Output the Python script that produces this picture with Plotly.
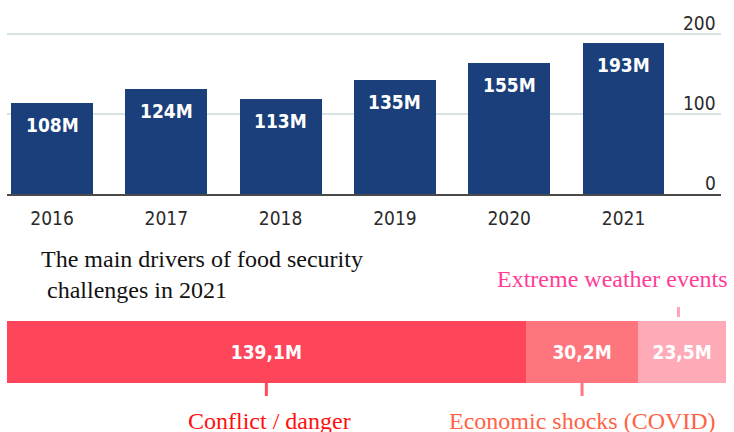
import plotly.graph_objects as go

# ---- data ----
years = ["2016", "2017", "2018", "2019", "2020", "2021"]
bar_heights = [114, 131, 119, 142.5, 164, 189]          # bar heights as drawn
bar_labels = ["108M", "124M", "113M", "135M", "155M", "193M"]
y_ticks = [0, 100, 200]
y_tick_labels = ["0", "100", "200"]

drivers = ["Conflict / danger", "Economic shocks (COVID)", "Extreme weather events"]
driver_values = [139.1, 30.2, 23.5]
driver_labels = ["139,1M", "30,2M", "23,5M"]
driver_colors = ["#ff455a", "#ff757e", "#ffabb7"]
driver_tick_colors = ["#ff4a5c", "#ff7780", "#ffa3b6"]
driver_text_colors = ["#ff1010", "#ff6245", "#ff3d96"]
title_text = "The main drivers of food security<br> challenges in 2021"

W, H = 734, 432
SANS = "DejaVu Sans Condensed, Liberation Sans Narrow, Arial Narrow, sans-serif"
SERIF = "Liberation Serif, Times New Roman, serif"
BLUE = "#1b3f7a"
PX_PER_UNIT = 0.8          # top chart: 80 px per 100
Y_MAX = 225

fig = go.Figure()

# top bar chart
fig.add_trace(go.Bar(
    x=years, y=bar_heights, marker_color=BLUE, marker_line_width=0,
    xaxis="x", yaxis="y", hoverinfo="skip",
))
for i, (h, lab) in enumerate(zip(bar_heights, bar_labels)):
    fig.add_annotation(
        x=i, y=h, xref="x", yref="y", text=lab, showarrow=False,
        yanchor="top", yshift=-9,
        font=dict(family=SANS, size=19, color="white", weight=600),
    )
# y tick labels (right side, just above the gridlines)
for v, t in zip(y_ticks, y_tick_labels):
    fig.add_annotation(
        x=1, y=v, xref="x domain", yref="y", text=t, showarrow=False,
        xanchor="right", yanchor="middle", xshift=-3, yshift=11,
        font=dict(family=SANS, size=19, color="#2b2b2b"),
    )

# bottom stacked bar
total = sum(driver_values)
start = 0
mids = []
for name, v, lab, c in zip(drivers, driver_values, driver_labels, driver_colors):
    fig.add_trace(go.Bar(
        y=[0], x=[v], orientation="h", width=1, marker_color=c, marker_line_width=0,
        text=[lab], textposition="inside", insidetextanchor="middle", textangle=0,
        textfont=dict(family=SANS, size=19, color="white", weight=600),
        xaxis="x2", yaxis="y2", hoverinfo="skip", name=name,
    ))
    mids.append(start + v / 2)
    start += v

bar_bot = 49 / H
bar_top = 111 / H
# little ticks
fig.add_shape(type="line", xref="x2", yref="paper", x0=mids[0], x1=mids[0],
              y0=bar_bot, y1=36 / H, line=dict(color=driver_tick_colors[0], width=3))
fig.add_shape(type="line", xref="x2", yref="paper", x0=mids[1], x1=mids[1],
              y0=bar_bot, y1=36 / H, line=dict(color=driver_tick_colors[1], width=3))
fig.add_shape(type="line", xref="x2", yref="paper", x0=mids[2] - 1, x1=mids[2] - 1,
              y0=115 / H, y1=125 / H, line=dict(color=driver_tick_colors[2], width=3))

# driver labels
fig.add_annotation(x=mids[0], y=(H - 421) / H, xref="x2", yref="paper",
                   text=drivers[0], showarrow=False, xanchor="center", yanchor="middle",
                   xshift=3,
                   font=dict(family=SERIF, size=24, color=driver_text_colors[0]))
fig.add_annotation(x=mids[1], y=(H - 421) / H, xref="x2", yref="paper",
                   text=drivers[1], showarrow=False, xanchor="center", yanchor="middle",
                   font=dict(family=SERIF, size=24, color=driver_text_colors[1]))
fig.add_annotation(x=total, y=(H - 279) / H, xref="x2", yref="paper",
                   text=drivers[2], showarrow=False, xanchor="right", yanchor="middle",
                   xshift=4,
                   font=dict(family=SERIF, size=24, color=driver_text_colors[2]))

# title
fig.add_annotation(x=39 / W, y=(H - 274) / H, xref="paper", yref="paper",
                   text=title_text, showarrow=False, xanchor="left", yanchor="middle",
                   align="left", font=dict(family=SERIF, size=24, color="#111111"))

y_top_px = 194 - Y_MAX * PX_PER_UNIT
fig.update_layout(
    width=W, height=H, margin=dict(l=0, r=0, t=0, b=0),
    paper_bgcolor="white", plot_bgcolor="white", showlegend=False,
    barmode="stack", bargap=0.283,
    xaxis=dict(domain=[7 / W, 721 / W], type="category", range=[-0.394, 5.853],
               showline=True, linecolor="#4a4a4a", linewidth=1.5,
               showgrid=False, ticks="", ticklabelstandoff=6,
               tickfont=dict(family=SANS, size=19, color="#2b2b2b"), anchor="y"),
    yaxis=dict(domain=[(H - 194) / H, (H - y_top_px) / H], range=[0, Y_MAX],
               side="right", tickvals=y_ticks, showticklabels=False,
               showgrid=True, gridcolor="#d8e4e4", gridwidth=1.5, zeroline=False,
               anchor="x"),
    xaxis2=dict(domain=[7 / W, 726 / W], range=[0, total], visible=False, anchor="y2"),
    yaxis2=dict(domain=[bar_bot, bar_top], range=[-0.5, 0.5], visible=False, anchor="x2"),
)

fig.write_html("out.html")
